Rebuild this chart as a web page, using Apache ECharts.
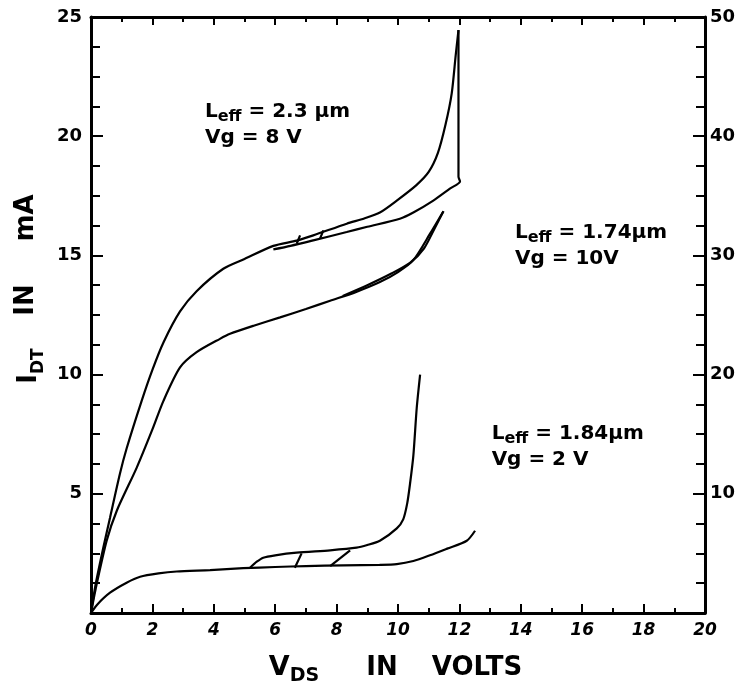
<!DOCTYPE html>
<html>
<head>
<meta charset="utf-8">
<script src="https://cdn.jsdelivr.net/npm/echarts@6/dist/echarts.min.js"></script>
<style>
html, body { margin: 0; padding: 0; background: #fff; }
#chart { width: 747px; height: 685px; }
</style>
</head>
<body>
<div id="chart"></div>
<script>
// Leff = 2.3um, Vg = 8V  (left axis, mA)
const curve23Up = [[0,0],[0.15,1.2],[0.4,2.74],[0.62,4.0],[0.94,5.83],[1.16,6.9],[1.65,8.9],[2.0,10.2],[2.36,11.35],[2.9,12.65],[3.44,13.5],[4.31,14.44],[5.0,14.85],[5.94,15.4],[6.7,15.62],[7.24,15.84],[8.33,16.33],[8.9,16.55],[9.41,16.8],[9.96,17.3],[10.6,17.95],[11.0,18.5],[11.3,19.3],[11.55,20.5],[11.75,21.8],[11.88,23.4],[11.97,24.45]];
const curve23Down = [[11.97,24.45],[11.97,18.3],[12.02,18.1],[11.69,17.8],[11.15,17.3],[10.5,16.8],[10.06,16.54],[9.0,16.2],[8.33,15.98],[7.24,15.63],[6.5,15.4],[5.94,15.25]];
const cross23A = [[6.7,15.49],[6.81,15.84]];
const cross23B = [[7.46,15.7],[7.57,16.05]];

// Leff = 1.74um, Vg = 10V  (right axis)
const curve174 = [[0,0],[0.15,2.0],[0.51,6.06],[0.84,8.58],[1.49,12.2],[2.0,15.4],[2.36,17.8],[2.9,20.6],[3.44,21.88],[4.2,23.0],[4.53,23.42],[5.3,24.1],[6.16,24.8],[7.0,25.5],[7.79,26.2],[8.6,26.9],[9.41,27.76],[10.0,28.6],[10.5,29.6],[11.04,31.8],[11.48,33.7]];
const curve174Back = [[11.48,33.7],[11.2,32.3],[10.85,30.6],[10.4,29.4],[9.8,28.5],[9.0,27.5],[8.2,26.6]];

// Leff = 1.84um, Vg = 2V  (left axis, mA)
const curve184Low = [[0,0],[0.2,0.35],[0.62,0.85],[1.16,1.27],[1.6,1.52],[2.2,1.66],[2.79,1.74],[3.88,1.8],[4.96,1.88],[6.0,1.93],[7.0,1.97],[8.22,2.0],[9.4,2.02],[9.96,2.05],[10.5,2.18],[11.04,2.42],[11.6,2.7],[12.24,3.03],[12.51,3.45]];
const curve184High = [[5.18,1.9],[5.4,2.15],[5.61,2.32],[6.0,2.42],[6.7,2.53],[7.79,2.63],[8.65,2.74],[9.0,2.85],[9.41,3.03],[9.96,3.55],[10.17,3.93],[10.3,4.6],[10.39,5.4],[10.5,6.6],[10.61,8.6],[10.72,10.0]];
const cross184A = [[6.64,1.9],[6.86,2.5]];
const cross184B = [[7.79,1.97],[8.44,2.63]];

const noteTexts = [
    'L{s|eff} = 2.3 µm\nVg = 8 V',
    'L{s|eff} = 1.74µm\nVg = 10V',
    'L{s|eff} = 1.84µm\nVg = 2 V'
];
const noteAnchors = [[3.71, 20.46], [13.81, 15.42], [13.05, 6.97]];

const FONT = '"DejaVu Sans", "Liberation Sans", Arial, sans-serif';

let chart = echarts.init(document.getElementById('chart'));

function lineSeries(data, yIdx) {
    return {
        type: 'line',
        yAxisIndex: yIdx,
        data: data,
        symbol: 'none',
        smooth: 0.25,
        silent: true,
        lineStyle: { color: '#000', width: 2.2 }
    };
}

let axisLine = { show: true, onZero: false, lineStyle: { color: '#000', width: 3 } };

let option = {
    backgroundColor: '#fff',
    animation: false,
    grid: { left: 91, right: 42, top: 17, bottom: 72 },
    xAxis: [
        {
            type: 'value', min: 0, max: 20, interval: 2,
            axisLine: axisLine,
            axisTick: { show: true, inside: true, length: 9, lineStyle: { color: '#000', width: 2 } },
            minorTick: { show: true, splitNumber: 2, length: 5, lineStyle: { color: '#000', width: 2 } },
            splitLine: { show: false },
            axisLabel: {
                color: '#000', fontFamily: FONT, fontWeight: 'bold', fontStyle: 'italic',
                fontSize: 17, margin: 9
            }
        },
        {
            type: 'value', min: 0, max: 20, interval: 2, position: 'top',
            axisLine: axisLine,
            axisTick: { show: true, inside: true, length: 8, lineStyle: { color: '#000', width: 2 } },
            minorTick: { show: true, splitNumber: 2, length: 5, lineStyle: { color: '#000', width: 2 } },
            splitLine: { show: false },
            axisLabel: { show: false }
        }
    ],
    yAxis: [
        {
            type: 'value', min: 0, max: 25, interval: 5, position: 'left',
            axisLine: axisLine,
            axisTick: { show: true, inside: true, length: 12, lineStyle: { color: '#000', width: 2 } },
            minorTick: { show: true, splitNumber: 4, length: 9, lineStyle: { color: '#000', width: 2 } },
            splitLine: { show: false },
            axisLabel: {
                color: '#000', fontFamily: FONT, fontWeight: 'bold', fontSize: 18, margin: 9,
                formatter: function (v) { return v === 0 ? '' : v; }
            }
        },
        {
            type: 'value', min: 0, max: 50, interval: 10, position: 'right',
            axisLine: axisLine,
            axisTick: { show: true, inside: true, length: 12, lineStyle: { color: '#000', width: 2 } },
            minorTick: { show: true, splitNumber: 4, length: 9, lineStyle: { color: '#000', width: 2 } },
            splitLine: { show: false },
            axisLabel: {
                color: '#000', fontFamily: FONT, fontWeight: 'bold', fontSize: 18, margin: 5,
                formatter: function (v) { return v === 0 ? '' : v; }
            }
        }
    ],
    series: [
        lineSeries(curve23Up, 0),
        lineSeries(curve23Down, 0),
        lineSeries(cross23A, 0),
        lineSeries(cross23B, 0),
        lineSeries(curve174, 1),
        lineSeries(curve174Back, 1),
        lineSeries(curve184Low, 0),
        lineSeries(curve184High, 0),
        lineSeries(cross184A, 0),
        lineSeries(cross184B, 0),
        {
            type: 'scatter',
            yAxisIndex: 0,
            symbolSize: 0,
            silent: true,
            itemStyle: { opacity: 1, color: '#000' },
            data: noteAnchors.map(function (p, i) { return { value: p, text: noteTexts[i] }; }),
            label: {
                show: true,
                position: 'right',
                distance: 0,
                align: 'left',
                verticalAlign: 'middle',
                color: '#000',
                opacity: 1,
                fontFamily: FONT,
                fontWeight: 'bold',
                fontSize: 20,
                lineHeight: 26,
                formatter: function (p) { return p.data.text; },
                rich: {
                    s: { fontFamily: FONT, fontWeight: 'bold', fontSize: 16, lineHeight: 26, verticalAlign: 'bottom', color: '#000' }
                }
            }
        }
    ],
    graphic: [
        {
            type: 'text', x: 26, y: 218, rotation: Math.PI / 2,
            style: { text: 'mA', fill: '#000', font: 'bold 26px ' + FONT, align: 'center', verticalAlign: 'middle' }
        },
        {
            type: 'text', x: 26, y: 300, rotation: Math.PI / 2,
            style: { text: 'IN', fill: '#000', font: 'bold 26px ' + FONT, align: 'center', verticalAlign: 'middle' }
        },
        {
            type: 'text', x: 29, y: 366, rotation: Math.PI / 2,
            style: {
                text: 'I{s|DT}', fill: '#000', font: 'bold 26px ' + FONT, align: 'center', verticalAlign: 'middle',
                rich: { s: { font: 'bold 17px ' + FONT, fill: '#000', verticalAlign: 'bottom', lineHeight: 36 } }
            }
        },
        {
            type: 'text', x: 294, y: 668,
            style: {
                text: 'V{s|DS}', fill: '#000', font: 'bold 27px ' + FONT, align: 'center', verticalAlign: 'middle',
                rich: { s: { font: 'bold 19px ' + FONT, fill: '#000', verticalAlign: 'bottom', lineHeight: 36 } }
            }
        },
        {
            type: 'text', x: 382, y: 668,
            style: { text: 'IN', fill: '#000', font: 'bold 26px ' + FONT, align: 'center', verticalAlign: 'middle' }
        },
        {
            type: 'text', x: 477, y: 668,
            style: { text: 'VOLTS', fill: '#000', font: 'bold 26px ' + FONT, align: 'center', verticalAlign: 'middle' }
        }
    ]
};

chart.setOption(option, true);
</script>
</body>
</html>
